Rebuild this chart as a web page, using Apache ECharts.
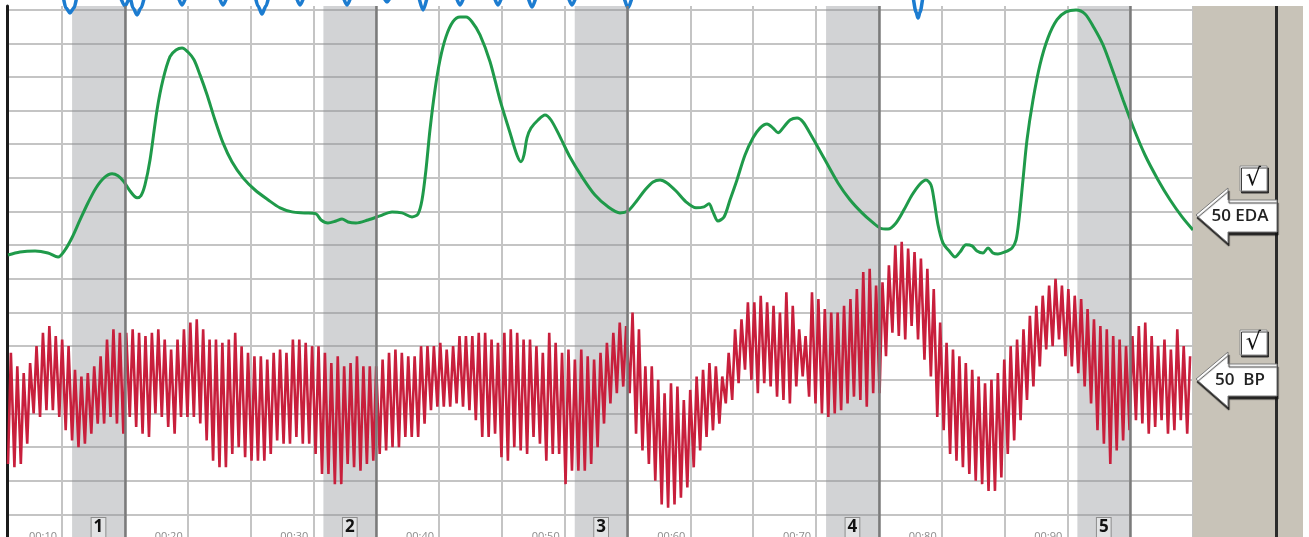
<!DOCTYPE html>
<html>
<head>
<meta charset="utf-8">
<script src="https://cdn.jsdelivr.net/npm/echarts@6/dist/echarts.min.js"></script>
<style>
  html, body { margin: 0; padding: 0; background: #ffffff; }
  #chart { width: 1309px; height: 537px; }
</style>
</head>
<body>
<div id="chart"></div>
<script>
// Recording window, seconds
const timeStart = 5.62;
const timeEnd = 100;

// Visible level range (grid lines every 10 units)
const levelMin = -6.7;
const levelMax = 151.07;

// Time tick labels along the bottom edge
const tickSeconds = [10, 20, 30, 40, 50, 60, 70, 80, 90];
const tickLabels = ['00:10', '00:20', '00:30', '00:40', '00:50', '00:60', '00:70', '00:80', '00:90'];

// Question periods (start, end in seconds) and their numbers
const questionZones = [[10.8, 15], [30.8, 35], [50.8, 55], [70.8, 75], [90.8, 95]];
const questionNumbers = ['1', '2', '3', '4', '5'];

// Channel gain labels in the side panel
const channelNames = ['EDA', 'BP'];
const channelGains = ['50', '50'];

// Electrodermal activity trace [seconds, level]
const edaPoints = [
  [5.70, 77.1], [6.65, 78.0], [7.85, 78.3], [8.88, 77.7], [9.68, 76.5], [10.24, 78.6], [10.79, 82.2],
  [11.43, 87.5], [12.07, 92.6], [12.70, 97.0], [13.34, 100.0], [13.98, 101.2], [14.45, 100.6],
  [14.93, 98.8], [15.41, 96.1], [15.97, 94.1], [16.28, 94.7], [16.60, 97.9], [17.00, 105.3],
  [17.56, 120.2], [18.03, 129.1], [18.59, 136.0], [19.07, 138.0], [19.55, 138.6], [20.02, 137.4],
  [20.50, 135.1], [20.98, 130.6], [21.54, 124.7], [22.17, 117.2], [22.81, 110.4], [23.52, 104.8],
  [24.40, 100.0], [25.36, 96.4], [26.39, 93.5], [27.35, 91.1], [28.30, 89.9], [29.33, 89.6],
  [30.21, 89.3], [30.61, 87.5], [31.16, 86.6], [31.80, 87.2], [32.28, 87.8], [32.76, 86.9],
  [33.39, 86.6], [34.35, 87.5], [35.30, 88.7], [36.26, 89.9], [37.05, 89.6], [37.85, 88.4],
  [38.33, 89.3], [38.65, 93.5], [38.96, 102.4], [39.28, 114.3], [39.68, 126.2], [40.08, 135.1],
  [40.55, 141.9], [41.11, 146.4], [41.67, 147.8], [42.15, 147.8], [42.62, 146.4], [43.26, 142.5],
  [44.06, 134.5], [44.85, 123.2], [45.65, 113.4], [46.20, 106.8], [46.52, 104.8], [46.76, 106.8],
  [47.00, 111.9], [47.32, 114.8], [47.88, 117.2], [48.43, 118.7], [48.91, 117.2], [49.63, 112.2],
  [50.42, 106.2], [51.38, 100.3], [52.41, 94.9], [53.45, 91.4], [54.40, 89.6], [55.04, 90.2],
  [55.68, 92.9], [56.39, 96.4], [57.03, 98.8], [57.59, 99.4], [58.14, 98.5], [58.86, 96.1],
  [59.65, 92.9], [60.45, 91.1], [61.09, 91.4], [61.48, 92.3], [61.80, 89.9], [62.20, 87.2],
  [62.68, 88.4], [63.16, 93.5], [63.71, 99.4], [64.35, 106.8], [64.99, 111.9], [65.54, 114.8],
  [66.10, 116.0], [66.58, 114.8], [66.98, 113.4], [67.45, 115.2], [67.93, 117.2], [68.49, 117.8],
  [68.97, 116.6], [69.68, 112.2], [70.72, 105.3], [71.75, 98.5], [72.70, 93.5], [73.66, 89.6],
  [74.46, 86.9], [75.10, 85.1], [75.73, 84.8], [76.37, 86.6], [77.00, 90.5], [77.64, 94.9],
  [78.28, 98.2], [78.75, 99.4], [79.15, 97.9], [79.39, 93.5], [79.71, 86.0], [80.10, 80.7],
  [80.66, 78.0], [81.06, 76.5], [81.46, 78.0], [81.94, 80.1], [82.41, 79.8], [82.81, 78.3],
  [83.29, 77.7], [83.69, 79.2], [84.08, 77.7], [84.48, 77.4], [85.04, 78.0], [85.60, 79.2],
  [85.92, 81.6], [86.15, 87.5], [86.47, 99.4], [86.79, 111.3], [87.27, 123.2], [87.82, 133.6],
  [88.46, 141.6], [89.18, 147.0], [89.89, 149.3], [90.69, 149.9], [91.41, 148.7], [92.12, 144.6],
  [92.84, 139.5], [93.64, 131.5], [94.43, 123.2], [95.23, 115.2], [96.18, 106.8], [97.22, 99.4],
  [98.17, 93.5], [99.13, 88.4], [100.0, 84.5]
];

// Respiration trace: only its lowest excursions reach into view [seconds, level]
const pneumoPoints = [
  [5.62, 154.7], [10.00, 154.7], [10.31, 150.5], [10.63, 149.0], [10.95, 150.5], [11.27, 154.7],
  [14.45, 154.7], [15.01, 151.1], [15.41, 153.5], [15.65, 150.5], [15.97, 148.4], [16.28, 150.5], [16.68, 154.7],
  [19.07, 154.7], [19.55, 151.4], [20.02, 154.7],
  [22.33, 154.7], [22.81, 151.4], [23.29, 154.7],
  [25.28, 154.7], [25.59, 151.1], [25.91, 148.7], [26.23, 151.1], [26.55, 154.7],
  [28.46, 154.7], [28.94, 151.4], [29.41, 154.7],
  [32.20, 154.7], [32.68, 151.4], [33.15, 154.7],
  [35.46, 154.1], [35.86, 152.3], [36.26, 154.1],
  [38.25, 154.7], [38.73, 149.9], [39.20, 154.7],
  [41.19, 154.7], [41.67, 151.4], [42.15, 154.7],
  [44.22, 154.7], [44.69, 151.4], [45.17, 154.7],
  [46.92, 154.7], [47.40, 150.8], [47.88, 154.7],
  [50.11, 154.7], [50.58, 151.4], [51.06, 154.7],
  [54.56, 154.7], [55.04, 150.5], [55.52, 154.7],
  [77.64, 154.7], [77.96, 149.3], [78.12, 147.5], [78.28, 149.3], [78.59, 154.7],
  [100.0, 154.7]
];

// Blood pressure (cardio) trace: one peak and one trough per beat
const beatStart = 5.7;
const beatPeriod = 0.51;
const bpPeak = [
  48, 44, 42, 45, 50, 54, 56, 53, 52, 50, 43, 41, 42, 44, 47, 52, 55, 54, 54,
  55, 54, 53, 54, 55, 52, 49, 52, 55, 57, 58, 55, 52, 52, 51, 52, 54, 50, 48, 47, 47, 46, 48, 49, 48, 52, 52,
  51, 50, 50, 48, 45, 47, 44, 45, 47, 44, 44, 44, 46, 48, 49, 48, 47, 47, 50, 50, 50, 51, 49, 50,
  53, 53, 53, 54, 54, 52, 51, 54, 55, 54, 52, 52, 50, 48, 54, 51, 48, 49, 46, 49, 47, 46, 48, 51, 54, 57,
  56, 60, 55, 44, 44, 40, 36, 39, 38, 34, 37, 41, 43, 45, 44, 41, 48, 55, 58, 63, 63, 65, 63, 62, 60,
  66, 62, 55, 53, 66, 64, 61, 60, 60, 62, 64, 67, 72, 73, 68, 69, 74, 80, 81, 79, 78, 76, 73, 67, 57, 51,
  49, 47, 45, 43, 41, 39, 40, 42, 46, 50, 52, 55, 59, 62, 65, 68, 70, 68, 67, 65, 64, 61, 58, 56, 55,
  53, 52, 50, 53, 56, 57, 53, 50, 52, 49, 55, 50, 47
];
const bpTrough = [
  15, 14, 15, 21, 30, 29, 31, 31, 29, 25, 22, 20, 21, 24, 27, 27, 29, 27, 24,
  29, 26, 24, 23, 30, 29, 26, 24, 29, 29, 29, 27, 22, 16, 14, 14, 18, 20, 17, 16, 16, 16, 18, 22, 21, 21, 23,
  21, 21, 18, 12, 12, 9, 9, 15, 14, 13, 15, 16, 18, 19, 20, 20, 23, 23, 23, 27, 31, 32, 32, 32,
  33, 32, 31, 28, 23, 23, 24, 17, 16, 20, 19, 18, 23, 21, 16, 18, 18, 9, 13, 13, 13, 15, 20, 27, 33, 36,
  38, 36, 24, 19, 15, 10, 3, 2, 3, 5, 8, 14, 19, 23, 25, 27, 33, 34, 39, 43, 40, 36, 39, 38, 35,
  34, 33, 38, 41, 35, 33, 30, 29, 30, 31, 33, 35, 34, 32, 36, 36, 47, 54, 53, 52, 56, 52, 46, 41, 29, 25,
  18, 16, 14, 12, 10, 9, 7, 7, 11, 18, 22, 28, 34, 38, 44, 49, 50, 52, 47, 44, 42, 38, 33, 25, 21,
  15, 19, 22, 25, 28, 27, 24, 26, 28, 24, 25, 28, 24
];

// Build the beat-by-beat zigzag
const bpData = [];
bpPeak.forEach((peak, i) => {
  const t = beatStart + i * beatPeriod;
  bpData.push([t, bpTrough[i]]);
  bpData.push([t + beatPeriod * 0.45, peak]);
});

const chart = echarts.init(document.getElementById('chart'), null, { renderer: 'canvas' });

const uiFont = '"Open Sans", "DejaVu Sans", sans-serif';

// Side panel: gain arrows and check boxes for each channel
function channelMarker(tipY, name, gain) {
  const top = tipY - 15, bottom = tipY + 17;
  return [
    {
      type: 'polygon', z: 12,
      shape: { points: [[1196, tipY], [1228, tipY - 27], [1228, top], [1277, top], [1277, bottom], [1228, bottom], [1228, tipY + 28]] },
      style: { fill: '#ffffff', stroke: '#7a7a7a', lineWidth: 1, shadowColor: 'rgba(20,20,20,0.9)', shadowOffsetX: 1, shadowOffsetY: 3, shadowBlur: 1 }
    },
    {
      type: 'text', z: 13, x: 1240, y: tipY + 1,
      style: { text: gain + (name.length < 3 ? '  ' : ' ') + name, fill: '#222222', fontFamily: uiFont, fontSize: 17, fontWeight: 600, align: 'center', verticalAlign: 'middle' }
    },
    {
      type: 'rect', z: 12,
      shape: { x: 1240, y: tipY - 49, width: 27, height: 25 },
      style: { fill: '#ffffff', stroke: '#8a8a8a', lineWidth: 1, shadowColor: 'rgba(30,30,30,0.85)', shadowOffsetX: 1.5, shadowOffsetY: 2, shadowBlur: 0 }
    },
    {
      type: 'text', z: 13, x: 1253.5, y: tipY - 36,
      style: { text: '\u221A', fill: '#111111', fontFamily: '"DejaVu Sans", sans-serif', fontSize: 24, align: 'center', verticalAlign: 'middle' }
    }
  ];
}

const option = {
  animation: false,
  backgroundColor: '#ffffff',
  grid: { left: 7, right: 116, top: 6, bottom: 0, containLabel: false, outerBoundsMode: 'none' },
  xAxis: {
    type: 'value',
    min: timeStart,
    max: timeEnd,
    splitNumber: 19,
    minInterval: 5,
    maxInterval: 5,
    axisLine: { show: false },
    axisTick: { show: false },
    axisLabel: {
      show: true,
      inside: true,
      margin: -5,
      align: 'right',
      padding: [0, 5, 0, 0],
      color: '#8c8c8c',
      fontFamily: uiFont,
      fontSize: 11,
      hideOverlap: false,
      formatter: (v) => {
        const k = tickSeconds.indexOf(Math.round(v * 100) / 100);
        return k >= 0 ? tickLabels[k] : '';
      }
    },
    splitLine: { show: true, lineStyle: { color: '#c4c4c4', width: 2 } }
  },
  yAxis: {
    type: 'value',
    min: levelMin,
    max: levelMax,
    splitNumber: 16,
    minInterval: 10,
    maxInterval: 10,
    axisLine: { show: true, onZero: false, lineStyle: { color: '#1b1b1b', width: 3 } },
    axisTick: { show: false },
    axisLabel: { show: false },
    splitLine: { show: true, showMinLine: false, showMaxLine: false, lineStyle: { color: '#c4c4c4', width: 2 } }
  },
  series: [
    {
      name: 'questions',
      type: 'line',
      z: 1,
      data: [],
      silent: true,
      markArea: {
        silent: true,
        itemStyle: { color: 'rgba(140,142,147,0.39)' },
        label: {
          show: true,
          position: 'insideBottom',
          distance: 0,
          formatter: '{b}',
          color: '#111111',
          fontFamily: uiFont,
          fontSize: 17,
          fontWeight: 'bold',
          lineHeight: 19,
          backgroundColor: '#e2e3e4',
          borderColor: '#8d8d8d',
          borderWidth: 1,
          padding: [0, 2, 0, 2]
        },
        data: questionZones.map((z, i) => [{ xAxis: z[0], name: questionNumbers[i] }, { xAxis: z[1] }])
      },
      markLine: {
        silent: true,
        symbol: ['none', 'none'],
        label: { show: false },
        lineStyle: { color: '#7b7b7b', width: 2.5, type: 'solid' },
        data: questionZones.map((z) => ({ xAxis: z[1] }))
      }
    },
    {
      name: 'BP',
      type: 'line',
      z: 2,
      data: bpData,
      showSymbol: false,
      symbol: 'none',
      lineStyle: { color: '#c81f3c', width: 2.6 }
    },
    {
      name: 'EDA',
      type: 'line',
      z: 3,
      data: edaPoints,
      showSymbol: false,
      symbol: 'none',
      smooth: 0.3,
      lineStyle: { color: '#1f9a4a', width: 3 }
    },
    {
      name: 'Pneumo',
      type: 'line',
      z: 3,
      clip: false,
      data: pneumoPoints,
      showSymbol: false,
      symbol: 'none',
      smooth: 0.3,
      smoothMonotone: 'x',
      lineStyle: { color: '#1c7cd0', width: 3.5 }
    }
  ],
  graphic: [
    { type: 'rect', z: 10, shape: { x: 1193, y: 6, width: 110, height: 531 }, style: { fill: '#c8c3b8' } },
    { type: 'rect', z: 11, shape: { x: 1275, y: 6, width: 3, height: 531 }, style: { fill: '#2b2b2b' } },
    ...channelMarker(215, channelNames[0], channelGains[0]),
    ...channelMarker(379, channelNames[1], channelGains[1])
  ]
};

chart.setOption(option);
</script>
</body>
</html>
